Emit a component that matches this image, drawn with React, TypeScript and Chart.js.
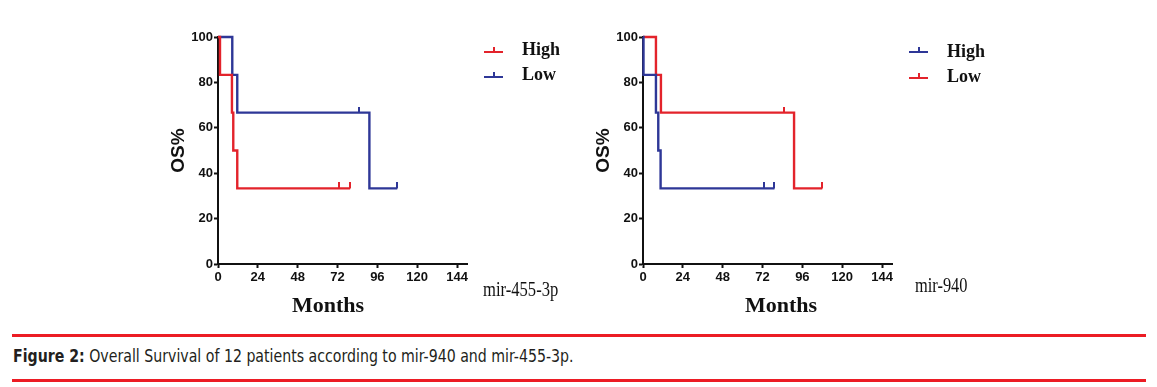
import React, { useEffect, useRef } from "react";
import { Chart, registerables } from "chart.js";

Chart.register(...registerables);

// ---------- data ----------
const xTicks = [0, 24, 48, 72, 96, 120, 144];
const yTicks = [0, 20, 40, 60, 80, 100];
const xMax = 150;

// mir-455-3p panel
const m455HighMonths = [0, 1.2, 8.4, 9.2, 11.6, 72.8, 79.6];
const m455HighOS = [100, 83.3, 66.7, 50, 33.3, 33.3, 33.3];
const m455HighCensored = [0, 0, 0, 0, 0, 1, 1];
const m455LowMonths = [0, 8.6, 11.6, 84.8, 91.2, 108];
const m455LowOS = [100, 83.3, 66.7, 66.7, 33.3, 33.3];
const m455LowCensored = [0, 0, 0, 1, 0, 1];

// mir-940 panel
const m940HighMonths = [0, 0.3, 7.8, 9.2, 10.6, 72.6, 79.2];
const m940HighOS = [100, 83.3, 66.7, 50, 33.3, 33.3, 33.3];
const m940HighCensored = [0, 0, 0, 0, 0, 1, 1];
const m940LowMonths = [0, 7.8, 10.8, 84.8, 91, 108];
const m940LowOS = [100, 83.3, 66.7, 66.7, 33.3, 33.3];
const m940LowCensored = [0, 0, 0, 1, 0, 1];

const RED = "#e3232b";
const BLUE = "#2e3797";
const RULE_RED = "#ec1c24";

type Series = { label: string; months: number[]; os: number[]; censored: number[]; color: string };

function censorMark(color: string): HTMLCanvasElement {
  const c = document.createElement("canvas");
  c.width = 2;
  c.height = 12;
  const g = c.getContext("2d")!;
  g.fillStyle = color;
  g.fillRect(0, 0, 2, 6);
  return c;
}

function KMChart({ left, top, series }: { left: number; top: number; series: Series[] }) {
  const ref = useRef<HTMLCanvasElement | null>(null);
  useEffect(() => {
    if (!ref.current) return;
    const datasets = series.map((s) => {
      const mark = censorMark(s.color);
      return {
        label: s.label,
        data: s.months.map((m, i) => ({ x: m, y: s.os[i] })),
        borderColor: s.color,
        backgroundColor: s.color,
        borderWidth: 2.4,
        stepped: true as const,
        fill: false,
        clip: false as any,
        pointStyle: mark as any,
        pointRadius: (ctx: any) => (s.censored[ctx.dataIndex] ? 6 : 0),
        pointHoverRadius: (ctx: any) => (s.censored[ctx.dataIndex] ? 6 : 0),
      };
    });
    const tickFont = { family: "'Liberation Sans', Arial, sans-serif", size: 13, weight: "bold" as const };
    const chart = new Chart(ref.current, {
      type: "line",
      data: { datasets },
      options: {
        animation: false,
        responsive: false,
        events: [],
        layout: { padding: { left: 0, right: 23, top: 17, bottom: 16 } },
        plugins: { legend: { display: false }, tooltip: { enabled: false } },
        scales: {
          x: {
            type: "linear",
            min: 0,
            max: xMax,
            afterBuildTicks: (scale: any) => {
              scale.ticks = xTicks.map((v) => ({ value: v }));
            },
            afterFit: (scale: any) => {
              scale.height = 30;
            },
            ticks: { color: "#111", font: tickFont, padding: 2, maxRotation: 0, autoSkip: false },
            grid: { display: true, drawOnChartArea: false, drawTicks: true, tickLength: 4, tickWidth: 2, tickColor: "#111" },
            border: { display: true, color: "#111", width: 2 },
          },
          y: {
            type: "linear",
            min: 0,
            max: 100,
            afterBuildTicks: (scale: any) => {
              scale.ticks = yTicks.map((v) => ({ value: v }));
            },
            afterFit: (scale: any) => {
              scale.width = 58;
            },
            ticks: { color: "#111", font: tickFont, padding: 1 },
            grid: { display: true, drawOnChartArea: false, drawTicks: true, tickLength: 4, tickWidth: 2, tickColor: "#111" },
            border: { display: true, color: "#111", width: 2 },
            title: {
              display: true,
              text: "OS%",
              color: "#111",
              font: { family: "'Liberation Sans', Arial, sans-serif", size: 19, weight: "bold" },
              padding: { top: 7, bottom: 0 },
            },
          },
        },
      },
    });
    return () => chart.destroy();
  }, [series]);
  return (
    <canvas
      ref={ref}
      width={330}
      height={290}
      style={{ position: "absolute", left, top, width: 330, height: 290 }}
    />
  );
}

function LegendRow({ x, y, textX, textTop, color, label }: { x: number; y: number; textX: number; textTop: number; color: string; label: string }) {
  return (
    <>
      <div style={{ position: "absolute", left: x, top: y - 1, width: 19, height: 2, background: color }} />
      <div style={{ position: "absolute", left: x + 9, top: y - 5, width: 2, height: 5, background: color }} />
      <div
        style={{
          position: "absolute",
          left: textX,
          top: textTop,
          fontFamily: "'Liberation Serif', 'Times New Roman', serif",
          fontWeight: "bold",
          fontSize: 18,
          lineHeight: "18px",
          color: "#111",
          whiteSpace: "nowrap",
        }}
      >
        {label}
      </div>
    </>
  );
}

const serifText: React.CSSProperties = {
  position: "absolute",
  fontFamily: "'Liberation Serif', 'Times New Roman', serif",
  color: "#111",
  whiteSpace: "nowrap",
};

const left455: Series[] = [
  { label: "High", months: m455HighMonths, os: m455HighOS, censored: m455HighCensored, color: RED },
  { label: "Low", months: m455LowMonths, os: m455LowOS, censored: m455LowCensored, color: BLUE },
];
const right940: Series[] = [
  { label: "High", months: m940HighMonths, os: m940HighOS, censored: m940HighCensored, color: BLUE },
  { label: "Low", months: m940LowMonths, os: m940LowOS, censored: m940LowCensored, color: RED },
];

export default function App() {
  return (
    <div style={{ position: "absolute", left: 0, top: 0, width: 1157, height: 387, background: "#fff", overflow: "hidden" }}>
      <KMChart left={160} top={20} series={left455} />
      <KMChart left={585} top={20} series={right940} />

      {/* axis titles */}
      <div style={{ ...serifText, left: 292, top: 293.5, fontSize: 22, fontWeight: "bold", lineHeight: "22px" }}>Months</div>
      <div style={{ ...serifText, left: 745, top: 293.5, fontSize: 22, fontWeight: "bold", lineHeight: "22px" }}>Months</div>

      {/* panel names */}
      <div style={{ ...serifText, left: 483, top: 279, fontSize: 20, lineHeight: "20px", transform: "scaleX(0.83)", transformOrigin: "left top" }}>mir-455-3p</div>
      <div style={{ ...serifText, left: 915, top: 275, fontSize: 20, lineHeight: "20px", transform: "scaleX(0.82)", transformOrigin: "left top" }}>mir-940</div>

      {/* legends */}
      <LegendRow x={484} y={52} textX={522} textTop={40} color={RED} label="High" />
      <LegendRow x={484} y={77} textX={522} textTop={64.5} color={BLUE} label="Low" />
      <LegendRow x={909} y={52} textX={947} textTop={42} color={BLUE} label="High" />
      <LegendRow x={909} y={78} textX={947} textTop={67} color={RED} label="Low" />

      {/* caption */}
      <div style={{ position: "absolute", left: 12, top: 333.5, width: 1134, height: 3, background: RULE_RED }} />
      <div
        style={{
          position: "absolute",
          left: 13,
          top: 348,
          fontFamily: "'Liberation Sans Narrow', 'DejaVu Sans Condensed', sans-serif",
          fontSize: 17,
          lineHeight: "17px",
          color: "#231f20",
          whiteSpace: "nowrap",
          transform: "scaleX(0.925)",
          transformOrigin: "left top",
        }}
      >
        <b>Figure 2:</b> Overall Survival of 12 patients according to mir-940 and mir-455-3p.
      </div>
      <div style={{ position: "absolute", left: 12, top: 379, width: 1134, height: 3, background: RULE_RED }} />
    </div>
  );
}
